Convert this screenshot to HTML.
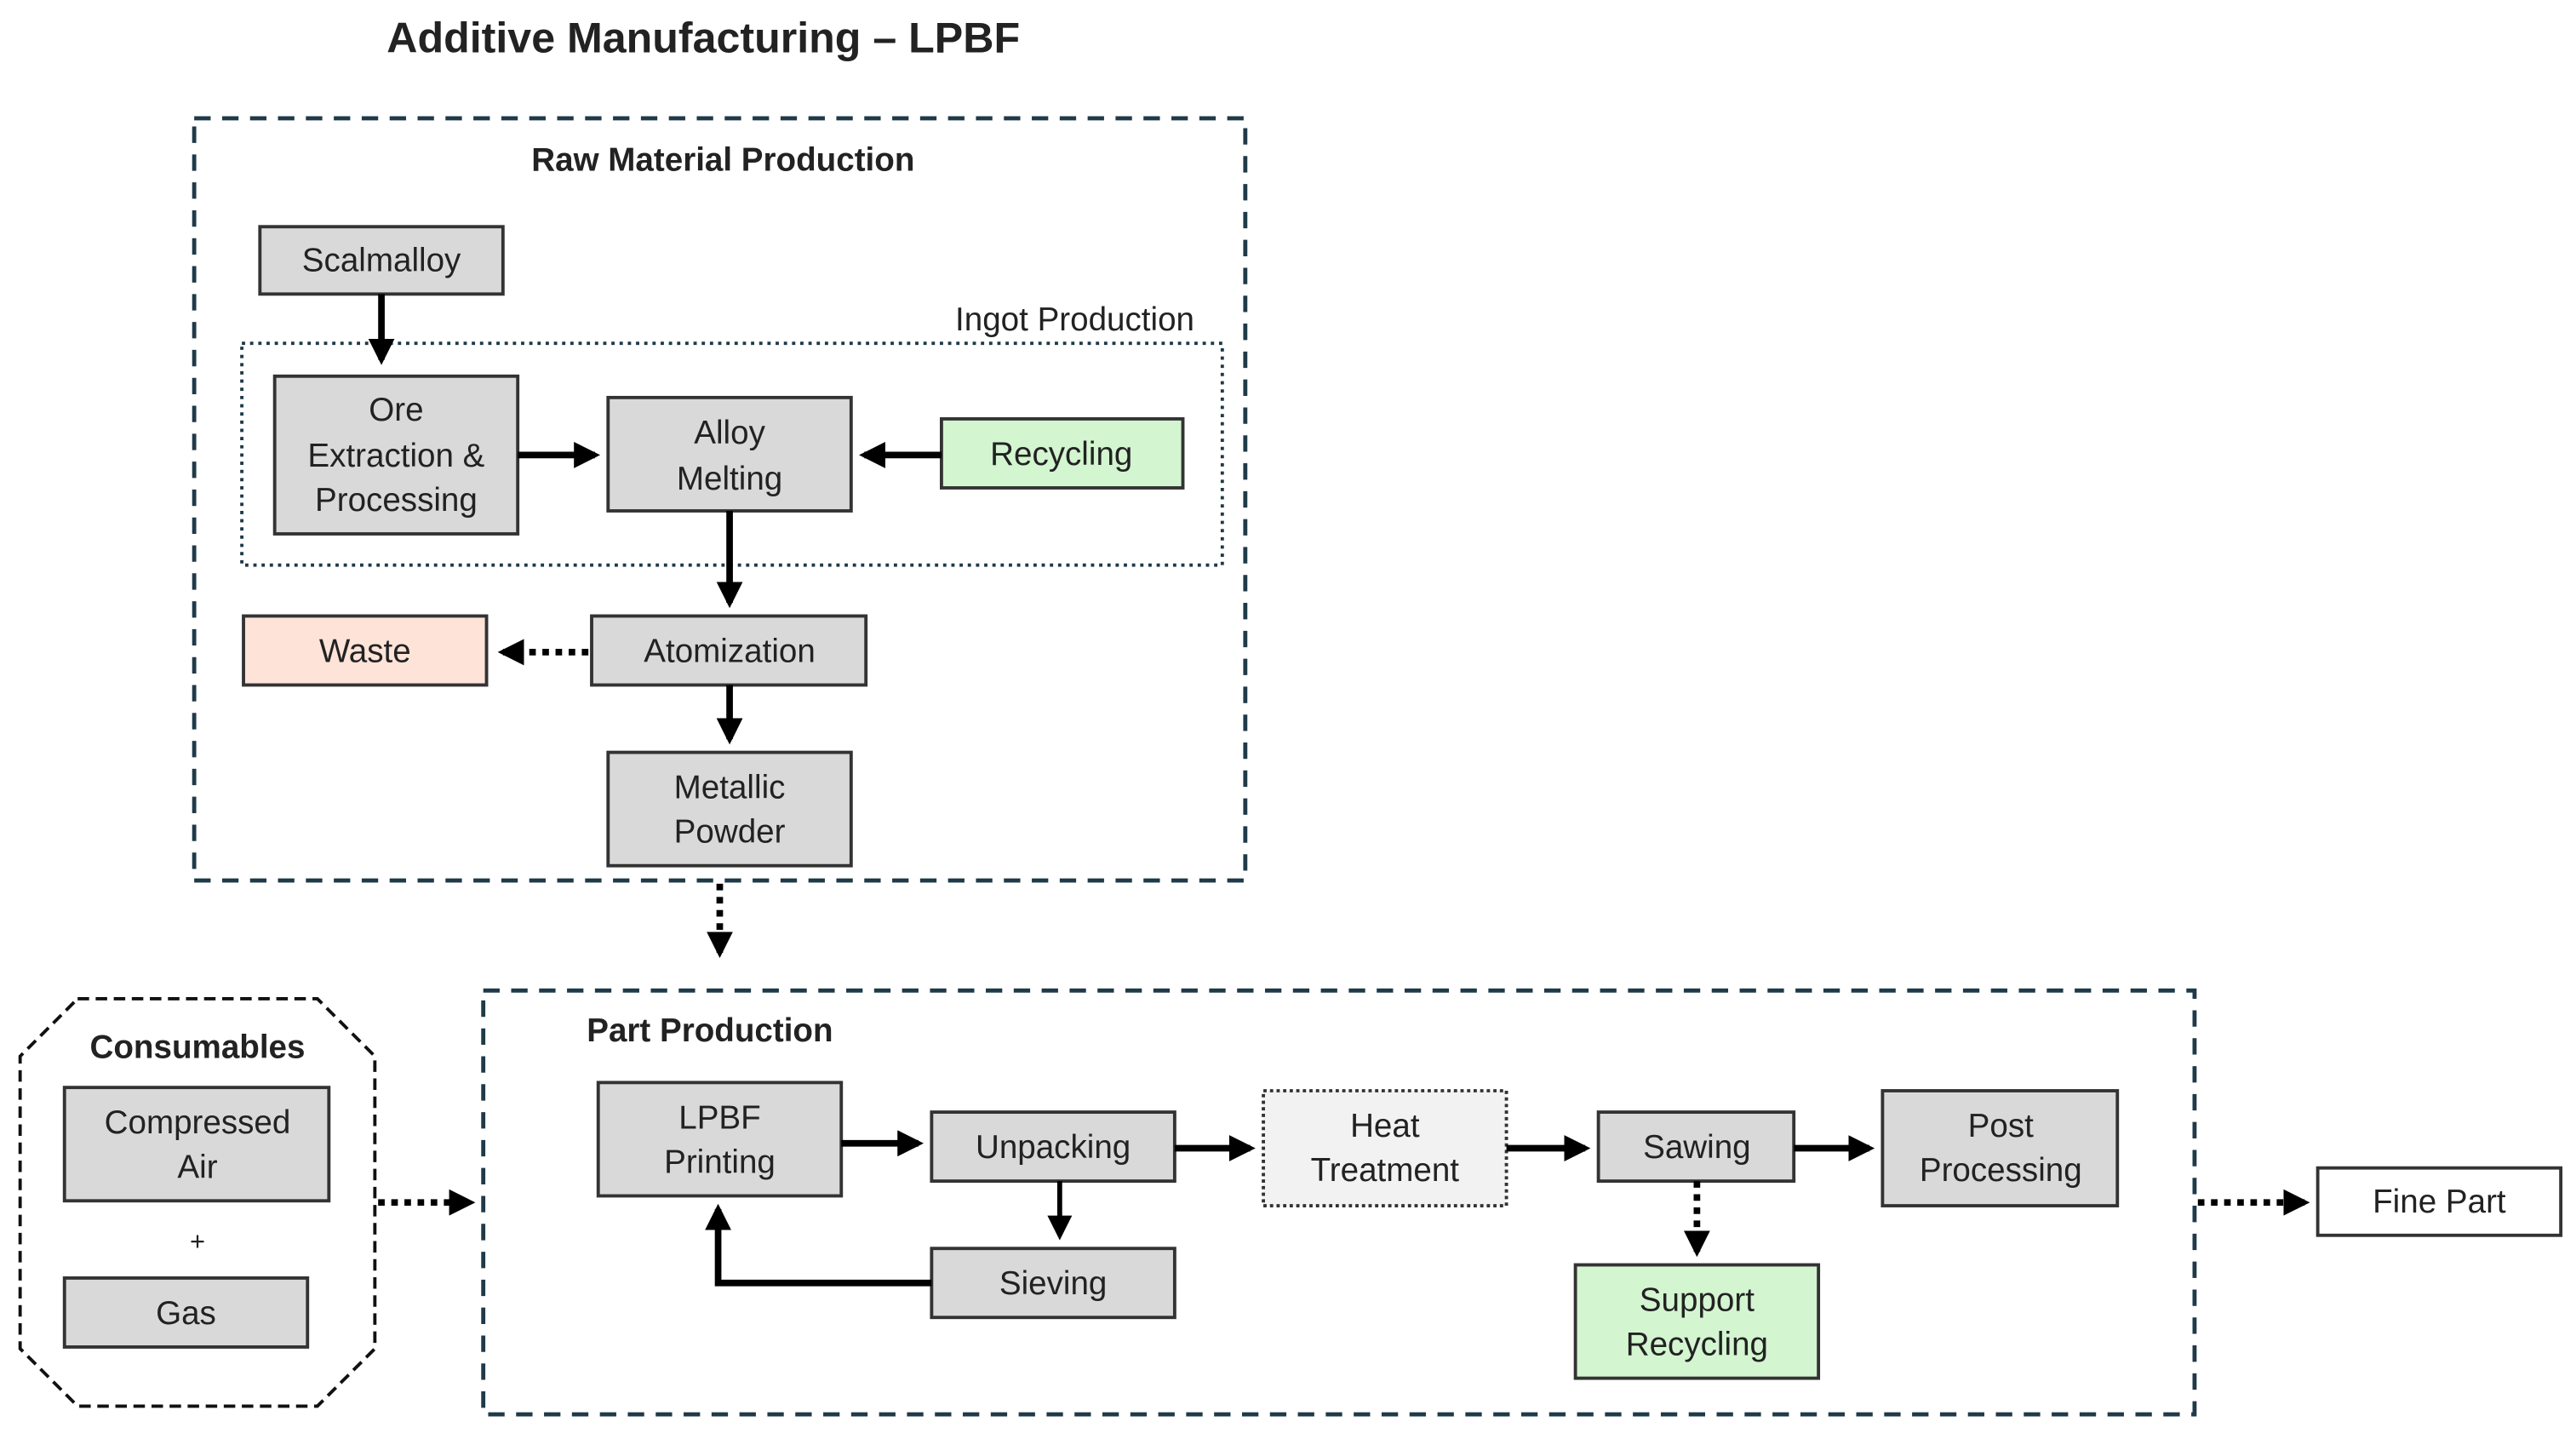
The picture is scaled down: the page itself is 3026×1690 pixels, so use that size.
<!DOCTYPE html>
<html><head><meta charset="utf-8"><style>
html,body{margin:0;padding:0;background:#fff;}
svg{display:block;}
text{font-family:"Liberation Sans",sans-serif;fill:#222;}
</style></head><body>
<svg width="3026" height="1690" viewBox="0 0 1568 876" xmlns="http://www.w3.org/2000/svg">
<defs>
<marker id="a" markerWidth="4" markerHeight="4" refX="3.2" refY="2" orient="auto" markerUnits="strokeWidth"><path d="M0,0 L4,2 L0,4 Z" fill="#000"/></marker>
<marker id="b" markerWidth="5" markerHeight="5" refX="4" refY="2.5" orient="auto" markerUnits="strokeWidth"><path d="M0,0 L5,2.5 L0,5 Z" fill="#000"/></marker>
</defs>
<rect width="1568" height="876" fill="#fff"/>
<text x="428" y="32" font-size="26" font-weight="bold" text-anchor="middle" fill="#111">Additive Manufacturing – LPBF</text>

<!-- Raw material box -->
<rect x="118" y="72" width="640" height="464" fill="none" stroke="#1f3a48" stroke-width="2.5" stroke-dasharray="10,7"/>
<text x="440" y="104" font-size="20" font-weight="bold" text-anchor="middle">Raw Material Production</text>
<rect x="147" y="209" width="597" height="135" fill="none" stroke="#1f3a48" stroke-width="2" stroke-dasharray="2,3"/>
<text x="727" y="201" font-size="20" text-anchor="end">Ingot Production</text>

<g stroke="#333" stroke-width="2">
<rect x="158" y="138" width="148" height="41" fill="#d9d9d9"/>
<rect x="167" y="229" width="148" height="96" fill="#d9d9d9"/>
<rect x="370" y="242" width="148" height="69" fill="#d9d9d9"/>
<rect x="573" y="255" width="147" height="42" fill="#d3f5d0"/>
<rect x="360" y="375" width="167" height="42" fill="#d9d9d9"/>
<rect x="148" y="375" width="148" height="42" fill="#fde3d8"/>
<rect x="370" y="458" width="148" height="69" fill="#d9d9d9"/>
</g>
<g font-size="20" text-anchor="middle">
<text x="232" y="165">Scalmalloy</text>
<text x="241" y="256">Ore</text>
<text x="241" y="284">Extraction &amp;</text>
<text x="241" y="311">Processing</text>
<text x="444" y="270">Alloy</text>
<text x="444" y="298">Melting</text>
<text x="646" y="283">Recycling</text>
<text x="444" y="403">Atomization</text>
<text x="222" y="403">Waste</text>
<text x="444" y="486">Metallic</text>
<text x="444" y="513">Powder</text>
</g>
<g stroke="#000" stroke-width="4" fill="none">
<line x1="232" y1="179" x2="232" y2="219" marker-end="url(#a)"/>
<line x1="315" y1="277" x2="362" y2="277" marker-end="url(#a)"/>
<line x1="573" y1="277" x2="526" y2="277" marker-end="url(#a)"/>
<line x1="444" y1="311" x2="444" y2="367" marker-end="url(#a)"/>
<line x1="444" y1="417" x2="444" y2="450" marker-end="url(#a)"/>
<line x1="358" y1="397" x2="306" y2="397" stroke-dasharray="4,4" marker-end="url(#a)"/>
<line x1="438" y1="538" x2="438" y2="580" stroke-dasharray="4,4" marker-end="url(#a)"/>
</g>

<!-- Consumables -->
<polygon points="47,608 193,608 228,643 228,821 193,856 47,856 12,821 12,643" fill="none" stroke="#111" stroke-width="2" stroke-dasharray="7,4"/>
<text x="120" y="644" font-size="20" font-weight="bold" text-anchor="middle">Consumables</text>
<g stroke="#333" stroke-width="2" fill="#d9d9d9">
<rect x="39" y="662" width="161" height="69"/>
<rect x="39" y="778" width="148" height="42"/>
</g>
<g font-size="20" text-anchor="middle">
<text x="120" y="690">Compressed</text>
<text x="120" y="717">Air</text>
<text x="120" y="761" font-size="16">+</text>
<text x="113" y="806">Gas</text>
</g>

<!-- Part production -->
<rect x="294" y="603" width="1042" height="258" fill="none" stroke="#1f3a48" stroke-width="2.5" stroke-dasharray="10,7"/>
<text x="357" y="634" font-size="20" font-weight="bold">Part Production</text>
<g stroke="#333" stroke-width="2">
<rect x="364" y="659" width="148" height="69" fill="#d9d9d9"/>
<rect x="567" y="677" width="148" height="42" fill="#d9d9d9"/>
<rect x="769" y="664" width="148" height="70" fill="#f2f2f2" stroke-dasharray="2,2"/>
<rect x="973" y="677" width="119" height="42" fill="#d9d9d9"/>
<rect x="1146" y="664" width="143" height="70" fill="#d9d9d9"/>
<rect x="567" y="760" width="148" height="42" fill="#d9d9d9"/>
<rect x="959" y="770" width="148" height="69" fill="#d3f5d0"/>
<rect x="1411" y="711" width="148" height="41" fill="#fff"/>
</g>
<g font-size="20" text-anchor="middle">
<text x="438" y="687">LPBF</text>
<text x="438" y="714">Printing</text>
<text x="641" y="705">Unpacking</text>
<text x="843" y="692">Heat</text>
<text x="843" y="719">Treatment</text>
<text x="1033" y="705">Sawing</text>
<text x="1218" y="692">Post</text>
<text x="1218" y="719">Processing</text>
<text x="641" y="788">Sieving</text>
<text x="1033" y="798">Support</text>
<text x="1033" y="825">Recycling</text>
<text x="1485" y="738">Fine Part</text>
</g>
<g stroke="#000" stroke-width="4" fill="none">
<line x1="512" y1="696" x2="559" y2="696" marker-end="url(#a)"/>
<line x1="715" y1="699" x2="761" y2="699" marker-end="url(#a)"/>
<line x1="917" y1="699" x2="965" y2="699" marker-end="url(#a)"/>
<line x1="1092" y1="699" x2="1138" y2="699" marker-end="url(#a)"/>
<polyline points="567,781 437,781 437,736" marker-end="url(#a)"/>
<line x1="645" y1="719" x2="645" y2="752" stroke-width="3" marker-end="url(#b)"/>
<line x1="1033" y1="719" x2="1033" y2="762" stroke-dasharray="4,4" marker-end="url(#a)"/>
<line x1="230" y1="732" x2="286" y2="732" stroke-dasharray="4,4" marker-end="url(#a)"/>
<line x1="1338" y1="732" x2="1403" y2="732" stroke-dasharray="4,4" marker-end="url(#a)"/>
</g>
</svg>
</body></html>
